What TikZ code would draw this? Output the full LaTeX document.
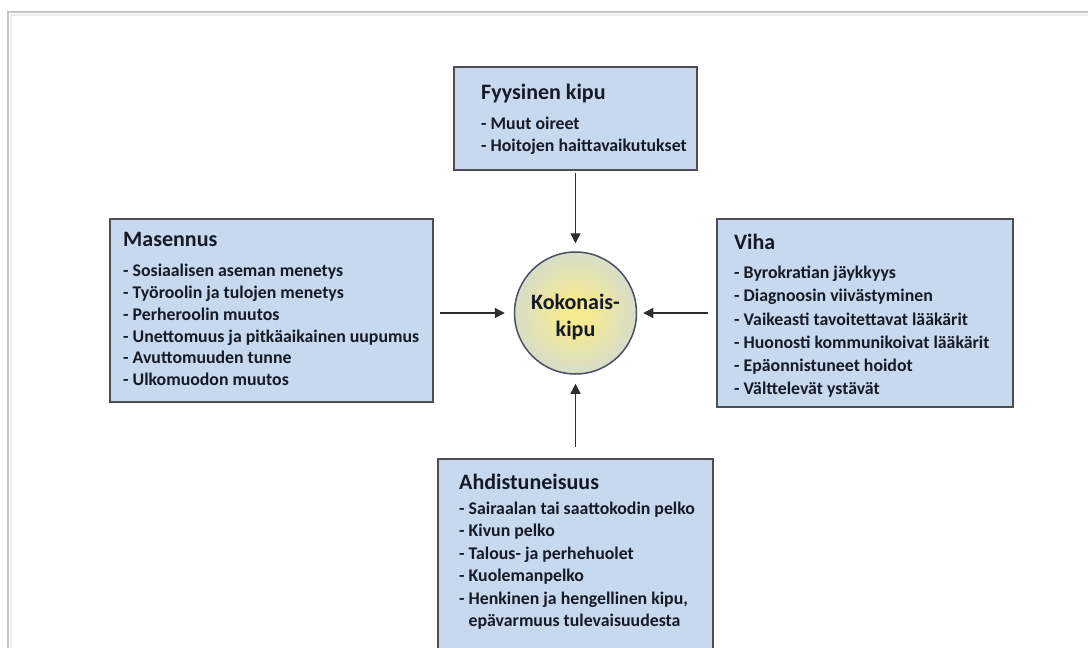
\documentclass[tikz,border=0pt]{standalone}
\usepackage{fontspec}
\setmainfont{Carlito}
\usetikzlibrary{arrows.meta}
\definecolor{boxfill}{HTML}{C8D8EE}
\definecolor{boxline}{HTML}{4E4E52}
\definecolor{textc}{HTML}{151A28}
\definecolor{arrc}{HTML}{2E2E2E}
\definecolor{framec}{HTML}{C4C4C4}
\definecolor{framel}{HTML}{EDEDED}
\definecolor{kyel}{HTML}{F6EA8E}
\definecolor{kblue}{HTML}{C6D6EA}
\definecolor{circline}{HTML}{4A5060}
\pgfdeclareradialshading{kpshade}{\pgfpoint{0bp}{0bp}}{color(0bp)=(kyel); color(5bp)=(kyel); color(36bp)=(kblue); color(50bp)=(kblue)}
\tikzset{
  box/.style={draw=boxline, line width=1.4pt, fill=boxfill, anchor=north west, inner sep=0pt, outer sep=0pt},
  txt/.style={anchor=north west, inner sep=0pt, align=left, text=textc},
  arr/.style={draw=arrc, line width=1.3pt, -{Triangle[length=10pt,width=10pt]}},
  circ/.style={circle, draw=circline, line width=1.5pt, minimum size=122pt, inner sep=0pt, shading=kpshade},
  circtxt/.style={inner sep=0pt, text=textc, align=center, font=\bfseries\fontsize{22}{27}\selectfont}
}
\newcommand{\ttlfont}{\fontsize{22}{26}\selectfont}
\begin{document}
\begin{tikzpicture}[x=1pt,y=-1pt]
\useasboundingbox (0,0) rectangle (1088,648);
\fill[white] (0,0) rectangle (1088,648);
% frame
\draw[framel, line width=2pt] (11,648) -- (11,15) -- (1088,15);
\draw[framec, line width=2pt] (8,648) -- (8,12) -- (1088,12);

% boxes
\node[box, minimum width=243pt, minimum height=103pt] (top) at (454,67) {};
\node[box, minimum width=323pt, minimum height=183pt] (left) at (110,219) {};
\node[box, minimum width=296pt, minimum height=188pt] (right) at (717,219) {};
\node[box, minimum width=275pt, minimum height=200pt] (bot) at (438,459) {};

% texts
\node[txt, font=\bfseries\fontsize{17.8}{22}\selectfont] (toptxt) at ([shift={(27,16.5)}]top.north west)
  {{\ttlfont Fyysinen kipu}\\[8pt]
   - Muut oireet\\
   - Hoitojen haittavaikutukset};
\node[txt, font=\bfseries\fontsize{17.8}{21.7}\selectfont] (lefttxt) at ([shift={(13,13.5)}]left.north west)
  {{\ttlfont Masennus}\\[8.3pt]
   - Sosiaalisen aseman menetys\\
   - Työroolin ja tulojen menetys\\
   - Perheroolin muutos\\
   - Unettomuus ja pitkäaikainen uupumus\\
   - Avuttomuuden tunne\\
   - Ulkomuodon muutos};
\node[txt, font=\bfseries\fontsize{17.8}{23.3}\selectfont] (righttxt) at ([shift={(17,14.5)}]right.north west)
  {{\ttlfont Viha}\\[6pt]
   - Byrokratian jäykkyys\\
   - Diagnoosin viivästyminen\\
   - Vaikeasti tavoitettavat lääkärit\\
   - Huonosti kommunikoivat lääkärit\\
   - Epäonnistuneet hoidot\\
   - Välttelevät ystävät};
\node[txt, font=\bfseries\fontsize{17.8}{22.5}\selectfont] (bottxt) at ([shift={(21,14.5)}]bot.north west)
  {{\ttlfont Ahdistuneisuus}\\[2.5pt]
   - Sairaalan tai saattokodin pelko\\
   - Kivun pelko\\
   - Talous- ja perhehuolet\\
   - Kuolemanpelko\\
   - Henkinen ja hengellinen kipu,\\
   \phantom{- }epävarmuus tulevaisuudesta};

% centre
\node[circ] (circ) at (575.5,313) {};
\node[circtxt] (circlbl) at ([shift={(0,4)}]circ.center) {Kokonais-\\kipu};

% arrows
\draw[arr, shorten <=3pt, shorten >=8pt] (top.south) -- (circ.north);
\draw[arr, shorten <=7pt, shorten >=9pt] (left.east |- circ.center) -- (circ.west);
\draw[arr, shorten <=9pt, shorten >=6pt] (right.west |- circ.center) -- (circ.east);
\draw[arr, shorten <=12pt, shorten >=9pt] (bot.north) -- (circ.south);
\end{tikzpicture}
\end{document}
